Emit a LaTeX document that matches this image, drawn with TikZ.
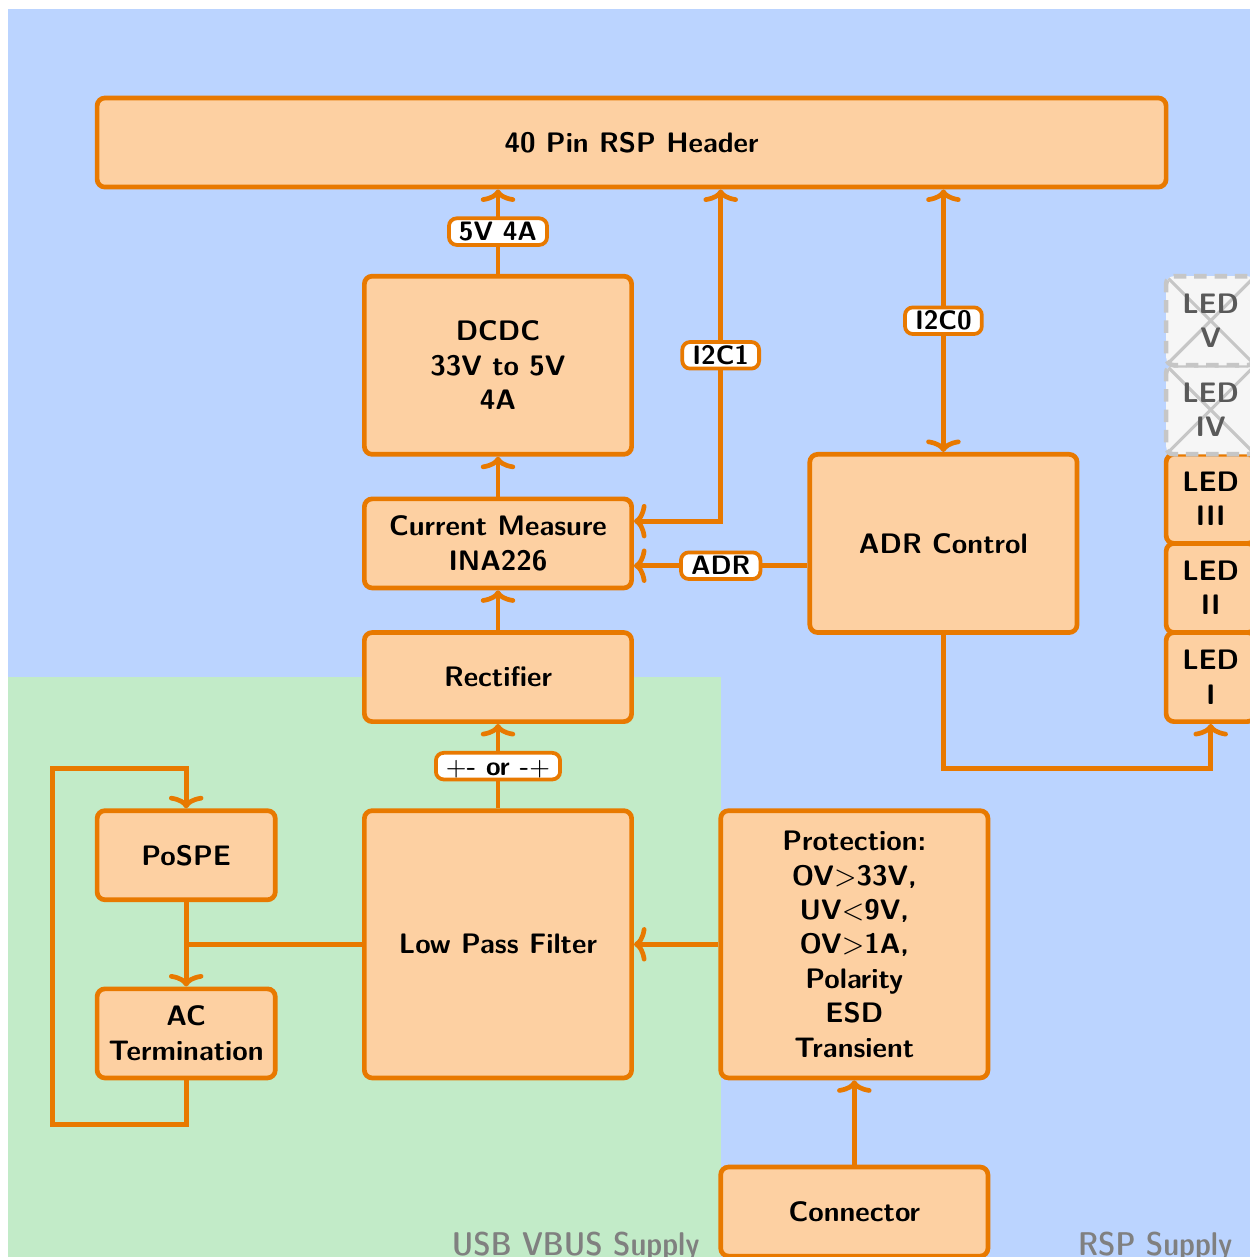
\documentclass[tikz,border=0pt]{standalone}
\usepackage{amsmath}
\usepackage{tikz}
\usetikzlibrary{arrows.meta}
\definecolor{rsp-blue}{RGB}{187,212,255}
\definecolor{usb-green}{RGB}{194,235,200}
\definecolor{line-orange}{RGB}{232,121,0}
\definecolor{box-orange}{RGB}{253,208,162}
\tikzset{
    >={To[length=4pt,width=11pt,round]},
    block-box/.style 2 args = {draw=line-orange, fill=box-orange, line width=1.5pt, rectangle, rounded corners=2.5pt, align=center, font=\small\sffamily\bfseries, minimum width=#1cm, minimum height=#2cm, inner sep=2pt},
    led-off/.style = {draw=gray!45, fill=gray!7, line width=1.5pt, dash pattern=on 4pt off 2.5pt, rectangle, rounded corners=2.5pt, align=center, font=\small\sffamily\bfseries, text=black!65, minimum width=1cm, minimum height=1cm, inner sep=2pt,
        path picture={\draw[gray!45, line width=1pt, solid, sharp corners] (path picture bounding box.north west) -- (path picture bounding box.south east) (path picture bounding box.south west) -- (path picture bounding box.north east);}},
    tag-box/.style = {draw=line-orange, fill=white, line width=1.2pt, rectangle, rounded corners=2.5pt, font=\fontsize{8.5}{10}\sffamily\bfseries\selectfont, inner xsep=3.2pt, inner ysep=1.2pt, text height=5.9pt, text depth=0.2pt},
    link-line/.style = {draw=line-orange, line width=1.5pt},
    area-label/.style = {font=\sffamily\fontsize{10.5}{12}\fontseries{sbc}\selectfont, text=black!50, anchor=base east, inner sep=0pt},
}

\begin{document}
\begin{tikzpicture}[x=1cm, y=-1cm]
\useasboundingbox (-1.09,-1.10) rectangle (12.94,13.01);
\fill[rsp-blue] (-1,-1) rectangle (13.5,13.5);
\fill[usb-green] (-1,6.5) rectangle (7,13.5);
\node[area-label] (usb-label) at (6.77,12.99) {USB VBUS Supply};
\node[area-label] (rsp-label) at (12.75,12.99) {RSP Supply};

\node[block-box={12}{1}] (header) at (6,0.5) {40 Pin RSP Header};
\node[block-box={3}{2}] (dcdc) at (4.5,3) {DCDC\\33V to 5V\\4A};
\node[block-box={3}{1}] (current) at (4.5,5) {Current Measure\\INA226};
\node[block-box={3}{1}] (rectifier) at (4.5,6.5) {Rectifier};
\node[block-box={3}{3}] (lowpass) at (4.5,9.5) {Low Pass Filter};
\node[block-box={2}{1}] (pospe) at (1,8.5) {PoSPE};
\node[block-box={2}{1}] (acterm) at (1,10.5) {AC\\Termination};
\node[block-box={3}{3}] (protection) at (8.5,9.5) {Protection:\\OV$>$33V,\\UV$<$9V,\\OV$>$1A,\\Polarity\\ESD\\Transient};
\node[block-box={3}{1}] (connector) at (8.5,12.5) {Connector};
\node[block-box={3}{2}] (adr) at (9.5,5) {ADR Control};
\node[block-box={1}{1}] (led-1) at (12.5,6.5) {LED\\I};
\node[block-box={1}{1}] (led-2) at (12.5,5.5) {LED\\II};
\node[block-box={1}{1}] (led-3) at (12.5,4.5) {LED\\III};
\node[led-off] (led-4) at (12.5,3.5) {LED\\IV};
\node[led-off] (led-5) at (12.5,2.5) {LED\\V};

\draw[link-line, ->] (dcdc.north) -- (dcdc.north |- header.south) node[tag-box, midway] (tag-5v) {5V 4A};
\draw[link-line, <->] ([yshift=2.5mm]current.east) -| ([xshift=1cm]header.south) node[tag-box, pos=0.75] (tag-i2c1) {I2C1};
\draw[link-line, <->] (adr.north) -- (adr.north |- header.south) node[tag-box, midway] (tag-i2c0) {I2C0};
\draw[link-line, ->] ([yshift=-2.5mm]adr.west) -- ([yshift=-2.5mm]current.east) node[tag-box, midway] (tag-adr) {ADR};
\draw[link-line, ->] (current.north) -- (dcdc.south);
\draw[link-line, ->] (rectifier.north) -- (current.south);
\draw[link-line, ->] (lowpass.north) -- (rectifier.south) node[tag-box, midway] (tag-pol) {$+$- or -$+$};
\draw[link-line, ->] (protection.west) -- (lowpass.east);
\draw[link-line, ->] (connector.north) -- (protection.south);
\draw[link-line] (lowpass.west) -- (lowpass.west -| pospe.south);
\draw[link-line, ->] (pospe.south) -- (acterm.north);
\draw[link-line, ->] (acterm.south) -- ++(0,0.5) -| ++(-1.5,-4) -| (pospe.north);
\draw[link-line, ->] (adr.south) -- ++(0,1.5) -| (led-1.south);
\end{tikzpicture}
\end{document}
